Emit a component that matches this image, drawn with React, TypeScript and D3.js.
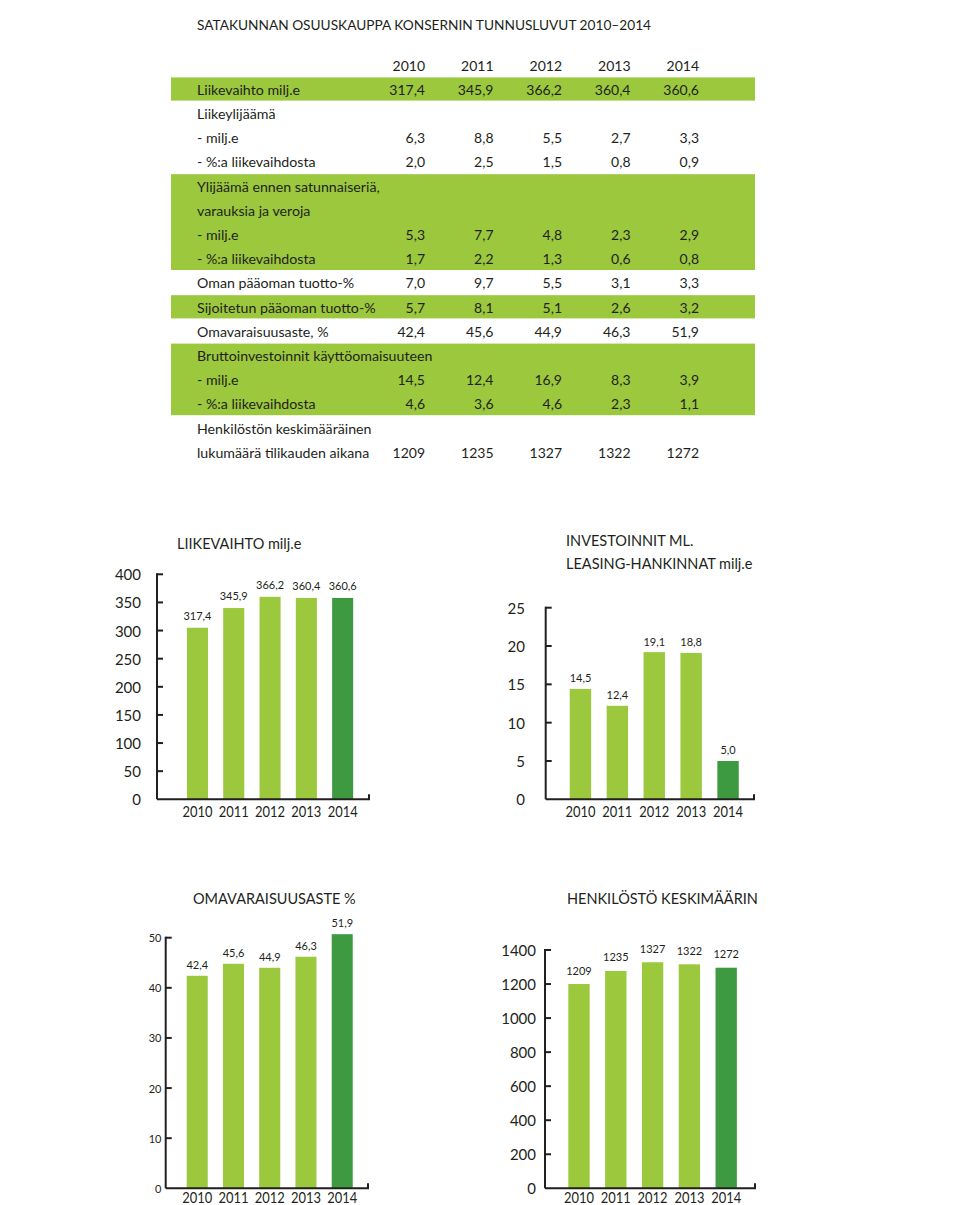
import React from "react";
import * as d3 from "d3";

const FONT = "Lato, 'Open Sans', sans-serif";
const LIGHT = "#9BC83C";
const DARK = "#3E9A40";
const INK = "#231F20";

const pageTitle = "SATAKUNNAN OSUUSKAUPPA KONSERNIN TUNNUSLUVUT 2010–2014";
const years = ["2010", "2011", "2012", "2013", "2014"];

const rowLabels = [
  "Liikevaihto milj.e",
  "Liikeylijäämä",
  "- milj.e",
  "- %:a liikevaihdosta",
  "Ylijäämä ennen satunnaiseriä,",
  "varauksia ja veroja",
  "- milj.e",
  "- %:a liikevaihdosta",
  "Oman pääoman tuotto-%",
  "Sijoitetun pääoman tuotto-%",
  "Omavaraisuusaste, %",
  "Bruttoinvestoinnit käyttöomaisuuteen",
  "- milj.e",
  "- %:a liikevaihdosta",
  "Henkilöstön keskimääräinen",
  "lukumäärä tilikauden aikana",
];
const rowValues: (string[] | null)[] = [
  ["317,4", "345,9", "366,2", "360,4", "360,6"],
  null,
  ["6,3", "8,8", "5,5", "2,7", "3,3"],
  ["2,0", "2,5", "1,5", "0,8", "0,9"],
  null,
  null,
  ["5,3", "7,7", "4,8", "2,3", "2,9"],
  ["1,7", "2,2", "1,3", "0,6", "0,8"],
  ["7,0", "9,7", "5,5", "3,1", "3,3"],
  ["5,7", "8,1", "5,1", "2,6", "3,2"],
  ["42,4", "45,6", "44,9", "46,3", "51,9"],
  null,
  ["14,5", "12,4", "16,9", "8,3", "3,9"],
  ["4,6", "3,6", "4,6", "2,3", "1,1"],
  null,
  ["1209", "1235", "1327", "1322", "1272"],
];
// groups of rows (first, last) with green background
const bandGroups: [number, number][] = [
  [0, 0],
  [4, 7],
  [9, 9],
  [11, 13],
];

// Chart data: printed labels and bar heights as drawn
const liikevaihtoLabels = ["317,4", "345,9", "366,2", "360,4", "360,6"];
const liikevaihtoBars = [305, 340, 360, 358, 358];
const investoinnitLabels = ["14,5", "12,4", "19,1", "18,8", "5,0"];
const investoinnitBars = [14.4, 12.2, 19.2, 19.1, 5.0];
const omavaraisuusLabels = ["42,4", "45,6", "44,9", "46,3", "51,9"];
const omavaraisuusBars = [42.4, 44.8, 44.0, 46.2, 50.7];
const henkilostoLabels = ["1209", "1235", "1327", "1322", "1272"];
const henkilostoBars = [1200, 1277, 1328, 1316, 1296];

type ChartProps = {
  title: string[];
  titleX: number;
  titleY: number;
  labels: string[];
  bars: number[];
  yMax: number;
  tickCount: number;
  axisX: number;
  axisEnd: number;
  y0: number;
  yTop: number;
  bandStart: number;
  step: number;
  tickLabelRight: number;
  tickFont: number;
  yearY: number;
  labelGap: number;
};

function BarChart(p: ChartProps) {
  const y = d3.scaleLinear().domain([0, p.yMax]).range([p.y0, p.yTop]);
  const x = d3
    .scaleBand<string>()
    .domain(years)
    .range([p.bandStart, p.bandStart + p.step * years.length])
    .paddingInner(0.42)
    .paddingOuter(0.21);
  const ticks = y.ticks(p.tickCount);
  return (
    <g>
      {p.title.map((t, i) => (
        <text key={i} x={p.titleX} y={p.titleY + i * 23} fontSize={14.5} fill={INK} dominantBaseline="central">
          {t}
        </text>
      ))}
      {p.bars.map((v, i) => (
        <rect
          key={i}
          x={x(years[i])}
          y={y(v)}
          width={x.bandwidth()}
          height={p.y0 - y(v)}
          fill={i === years.length - 1 ? DARK : LIGHT}
        />
      ))}
      {p.bars.map((v, i) => (
        <text
          key={"l" + i}
          x={(x(years[i]) as number) + x.bandwidth() / 2}
          y={y(v) - p.labelGap}
          fontSize={11}
          textAnchor="middle"
          dominantBaseline="central"
          fill={INK}
        >
          {p.labels[i]}
        </text>
      ))}
      <line x1={p.axisX} x2={p.axisX} y1={p.yTop - 1} y2={p.y0} stroke={INK} strokeWidth={2} />
      <path
        d={`M${p.axisX},${p.y0}H${p.axisEnd}V${p.y0 - 5}`}
        fill="none"
        stroke={INK}
        strokeWidth={2}
      />
      {ticks.map((t) => (
        <g key={t}>
          {t > 0 && (
            <line x1={p.axisX} x2={p.axisX + 6} y1={y(t)} y2={y(t)} stroke={INK} strokeWidth={2} />
          )}
          <text
            x={p.tickLabelRight}
            y={y(t)}
            fontSize={p.tickFont}
            textAnchor="end"
            dominantBaseline="central"
            fill={INK}
          >
            {t}
          </text>
        </g>
      ))}
      {years.map((yr) => (
        <text
          key={yr}
          x={(x(yr) as number) + x.bandwidth() / 2}
          y={p.yearY}
          fontSize={15}
          textAnchor="middle"
          dominantBaseline="central"
          textLength={30}
          lengthAdjust="spacingAndGlyphs"
          fill={INK}
        >
          {yr}
        </text>
      ))}
    </g>
  );
}

export default function App() {
  const rowY = (i: number) => 89.2 + i * 24.2;
  const colRight = d3.scaleLinear().domain([0, 4]).range([425, 699]);
  return (
    <svg
      width={960}
      height={1205}
      style={{ position: "absolute", left: 0, top: 0, background: "#fff" }}
      fontFamily={FONT}
    >
      <rect width={960} height={1205} fill="#fff" />
      <text
        x={197}
        y={24}
        fontSize={14}
        fill={INK}
        dominantBaseline="central"
        textLength={454}
        lengthAdjust="spacingAndGlyphs"
      >
        {pageTitle}
      </text>
      {bandGroups.map(([a, b], i) => (
        <rect
          key={i}
          x={171}
          y={rowY(a) - 11.8}
          width={584}
          height={rowY(b) - rowY(a) + 23.2}
          fill={LIGHT}
        />
      ))}
      {years.map((yr, j) => (
        <text key={yr} x={colRight(j)} y={65} fontSize={14} textAnchor="end" dominantBaseline="central" fill={INK}>
          {yr}
        </text>
      ))}
      {rowLabels.map((l, i) => (
        <g key={i}>
          <text x={197} y={rowY(i)} fontSize={14.2} dominantBaseline="central" fill={INK}>
            {l}
          </text>
          {rowValues[i] &&
            (rowValues[i] as string[]).map((v, j) => (
              <text
                key={j}
                x={colRight(j)}
                y={rowY(i)}
                fontSize={14}
                textAnchor="end"
                dominantBaseline="central"
                fill={INK}
              >
                {v}
              </text>
            ))}
        </g>
      ))}

      <BarChart
        title={["LIIKEVAIHTO milj.e"]}
        titleX={177}
        titleY={543}
        labels={liikevaihtoLabels}
        bars={liikevaihtoBars}
        yMax={400}
        tickCount={8}
        axisX={157}
        axisEnd={369}
        y0={799.3}
        yTop={574.3}
        bandStart={179.3}
        step={36.3}
        tickLabelRight={141}
        tickFont={15}
        yearY={811}
        labelGap={12.5}
      />
      <BarChart
        title={["INVESTOINNIT ML.", "LEASING-HANKINNAT milj.e"]}
        titleX={566}
        titleY={540}
        labels={investoinnitLabels}
        bars={investoinnitBars}
        yMax={25}
        tickCount={5}
        axisX={545.7}
        axisEnd={754}
        y0={799.3}
        yTop={607.7}
        bandStart={562}
        step={36.9}
        tickLabelRight={525}
        tickFont={15}
        yearY={811}
        labelGap={11}
      />
      <BarChart
        title={["OMAVARAISUUSASTE %"]}
        titleX={193}
        titleY={898}
        labels={omavaraisuusLabels}
        bars={omavaraisuusBars}
        yMax={50}
        tickCount={5}
        axisX={165.7}
        axisEnd={368}
        y0={1188.3}
        yTop={937.7}
        bandStart={179.1}
        step={36.25}
        tickLabelRight={161.5}
        tickFont={11}
        yearY={1197}
        labelGap={11.5}
      />
      <BarChart
        title={["HENKILÖSTÖ KESKIMÄÄRIN"]}
        titleX={567}
        titleY={898}
        labels={henkilostoLabels}
        bars={henkilostoBars}
        yMax={1400}
        tickCount={7}
        axisX={545}
        axisEnd={755}
        y0={1188.3}
        yTop={950}
        bandStart={560.6}
        step={36.8}
        tickLabelRight={536}
        tickFont={15}
        yearY={1197}
        labelGap={14}
      />
    </svg>
  );
}
